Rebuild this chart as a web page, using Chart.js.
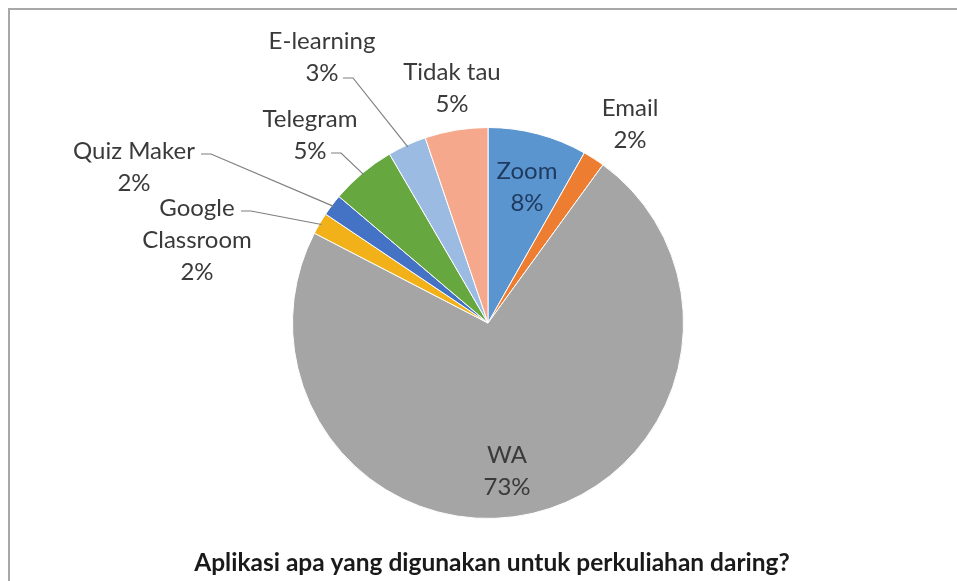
<!DOCTYPE html>
<html>
<head>
<meta charset="utf-8">
<script src="https://cdn.jsdelivr.net/npm/chart.js@4.4.0/dist/chart.umd.min.js"></script>
<style>
  html, body { margin: 0; padding: 0; background: #fff; }
  #wrap { width: 957px; height: 581px; position: relative; }
</style>
</head>
<body>
<div id="wrap"><canvas id="chart"></canvas></div>
<script>
// Data (percent of answers)
const categories = ["Zoom", "Email", "WA", "Google Classroom", "Quiz Maker", "Telegram", "E-learning", "Tidak tau"];
const values = [8.2, 1.8, 72.6, 1.8, 1.8, 5.4, 3.2, 5.2];
const colors = ["#5b95d0", "#ed7d31", "#a5a5a5", "#f2b118", "#4472c4", "#66a83f", "#9bbbe3", "#f5a88c"];
const title = "Aplikasi apa yang digunakan untuk perkuliahan daring?";

// Label layout: text lines, anchor (center of first line), leader line or not
const labelLayout = [
    { lines: ["Zoom"], x: 527, y: 171, color: "#1e3a5f" },
    { lines: ["Email"], x: 630, y: 108 },
    { lines: ["WA"], x: 507, y: 455 },
    { lines: ["Google", "Classroom"], x: 197, y: 208, leader: { x: 241, y: 211 } },
    { lines: ["Quiz Maker"], x: 134, y: 151, leader: { x: 201, y: 154 } },
    { lines: ["Telegram"], x: 310, y: 119, leader: { x: 331, y: 153 } },
    { lines: ["E-learning"], x: 322, y: 41, leader: { x: 343, y: 78 } },
    { lines: ["Tidak tau"], x: 452, y: 72 }
];

const FONT = '24px Lato, "Open Sans", sans-serif';
const LINE_H = 32;

const labelsPlugin = {
    id: 'labels',
    beforeDraw(chart) {
        const ctx = chart.ctx;
        ctx.save();
        ctx.fillStyle = '#ffffff';
        ctx.fillRect(0, 0, chart.width, chart.height);
        // frame
        ctx.strokeStyle = '#a8a8a8';
        ctx.lineWidth = 2;
        ctx.beginPath();
        ctx.moveTo(9, chart.height);
        ctx.lineTo(9, 9);
        ctx.lineTo(chart.width, 9);
        ctx.stroke();
        ctx.restore();
    },
    afterDraw(chart) {
        const ctx = chart.ctx;
        const meta = chart.getDatasetMeta(0);
        const total = values.reduce((a, b) => a + b, 0);
        ctx.save();
        ctx.font = FONT;
        ctx.textAlign = 'center';
        ctx.textBaseline = 'middle';

        labelLayout.forEach((lab, i) => {
            const arc = meta.data[i];
            const pct = Math.round(values[i] / total * 100) + '%';
            const lines = lab.lines.concat([pct]);
            ctx.fillStyle = lab.color || '#3a3a3a';
            lines.forEach((t, k) => ctx.fillText(t, lab.x, lab.y + k * LINE_H));

            if (lab.leader) {
                const mid = (arc.startAngle + arc.endAngle) / 2;
                const r = arc.outerRadius - 2;
                const px = arc.x + Math.cos(mid) * r;
                const py = arc.y + Math.sin(mid) * r;
                ctx.strokeStyle = '#7f7f7f';
                ctx.lineWidth = 1.2;
                ctx.beginPath();
                ctx.moveTo(lab.leader.x, lab.leader.y);
                ctx.lineTo(lab.leader.x + 10, lab.leader.y);
                ctx.lineTo(px, py);
                ctx.stroke();
            }
        });

        // title
        ctx.fillStyle = '#1a1a1a';
        ctx.font = 'bold 24.5px Lato, "Open Sans", sans-serif';
        ctx.fillText(title, 492, 563);
        ctx.restore();
    }
};

new Chart(document.getElementById('chart'), {
    type: 'pie',
    data: {
        labels: categories,
        datasets: [{
            data: values,
            backgroundColor: colors,
            borderColor: '#ffffff',
            borderWidth: 1
        }]
    },
    options: {
        responsive: true,
        maintainAspectRatio: false,
        animation: false,
        rotation: 0,
        layout: {
            padding: { top: 127, bottom: 62, left: 292, right: 273 }
        },
        plugins: {
            legend: { display: false },
            tooltip: { enabled: false },
            title: { display: false }
        }
    },
    plugins: [labelsPlugin]
});
</script>
</body>
</html>
